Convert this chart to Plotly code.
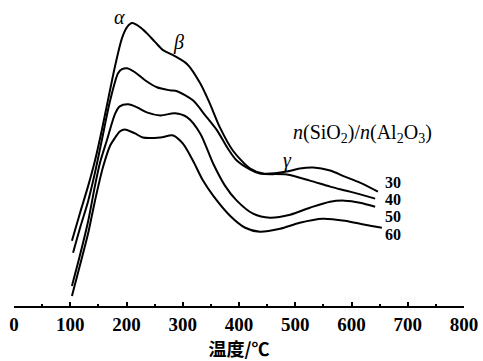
import plotly.graph_objects as go

# Temperature (°C) and signal (a.u.) for each n(SiO2)/n(Al2O3) ratio
t30 = [103, 117, 132, 144, 156, 167, 180, 192, 201, 210, 224, 236, 251, 265, 283, 308, 331, 348, 366, 389, 420, 443, 485, 508, 532, 562, 588, 615, 647]
v30 = [65, 92, 120, 145, 175, 205, 240, 267, 278, 282, 278, 272, 263, 255, 250, 241, 222, 202, 178, 155, 137, 132, 134, 137, 138, 135, 129, 123, 114]

t40 = [105, 117, 132, 144, 156, 171, 185, 192, 201, 215, 233, 254, 277, 290, 318, 340, 361, 379, 396, 420, 437, 485, 526, 562, 597, 642]
v40 = [53, 77, 105, 133, 165, 205, 232, 236, 237, 233, 225, 218, 215, 214, 205, 190, 175, 158, 145, 136, 132, 131, 125, 119, 114, 107]

t50 = [103, 117, 132, 144, 153, 165, 180, 188, 203, 219, 236, 260, 286, 308, 331, 354, 375, 396, 425, 455, 491, 526, 562, 588, 615, 642]
v50 = [20, 50, 85, 120, 143, 165, 192, 199, 201, 198, 193, 190, 192, 188, 172, 142, 120, 105, 92, 88, 91, 98, 104, 105, 103, 99]

t60 = [103, 117, 132, 144, 158, 171, 180, 188, 197, 215, 229, 260, 283, 300, 318, 336, 354, 384, 411, 437, 473, 508, 549, 588, 624, 654]
v60 = [10, 40, 73, 105, 138, 160, 168, 174, 176, 172, 168, 168, 170, 162, 145, 125, 110, 90, 78, 74, 77, 83, 87, 85, 81, 78]

ratios = ["30", "40", "50", "60"]
label_values = [123, 106, 89, 71]
tick_values = [0, 100, 200, 300, 400, 500, 600, 700, 800]

series = [(t30, v30), (t40, v40), (t50, v50), (t60, v60)]

fig = go.Figure()
for (t, v), name in zip(series, ratios):
    fig.add_trace(go.Scatter(x=t, y=v, mode="lines", name=name,
                             line=dict(color="black", width=2, shape="spline", smoothing=0.8),
                             showlegend=False))

serif = "Liberation Serif"
for name, yv in zip(ratios, label_values):
    fig.add_annotation(x=656, y=yv, text="<b>" + name + "</b>", showarrow=False,
                       xanchor="left", yanchor="middle",
                       font=dict(family=serif, size=16, color="black"))

fig.add_annotation(x=619, y=172, text="<i>n</i>(SiO<sub>2</sub>)/<i>n</i>(Al<sub>2</sub>O<sub>3</sub>)",
                   showarrow=False, xanchor="center", yanchor="middle",
                   font=dict(family=serif, size=20, color="black"))

for txt, xx, yy in [("α", 188, 288), ("β", 292, 263), ("γ", 487, 145)]:
    fig.add_annotation(x=xx, y=yy, text="<i>" + txt + "</i>", showarrow=False,
                       xanchor="center", yanchor="middle",
                       font=dict(family=serif, size=20, color="black"))

fig.update_layout(
    width=483, height=361,
    margin=dict(l=14, r=19, t=0, b=55),
    paper_bgcolor="white", plot_bgcolor="white",
    xaxis=dict(range=[0, 800], tickvals=tick_values, ticktext=[str(v) for v in tick_values],
               showgrid=False, zeroline=False, showline=True, linecolor="black", linewidth=1.5,
               ticks="inside", ticklen=4, tickwidth=1.5, tickcolor="black",
               minor=dict(dtick=50, tick0=0, ticks="inside", ticklen=2, tickcolor="black", showgrid=False),
               tickfont=dict(family=serif, size=19, color="black", weight="bold"),
               title=dict(text="<b>温度/℃</b>", standoff=8,
                          font=dict(family="Noto Sans CJK SC", size=18, color="black"))),
    yaxis=dict(range=[0, 305], visible=False),
)

fig.write_html("out.html", config={"displayModeBar": False},
               post_script="document.body.style.margin='0';")
